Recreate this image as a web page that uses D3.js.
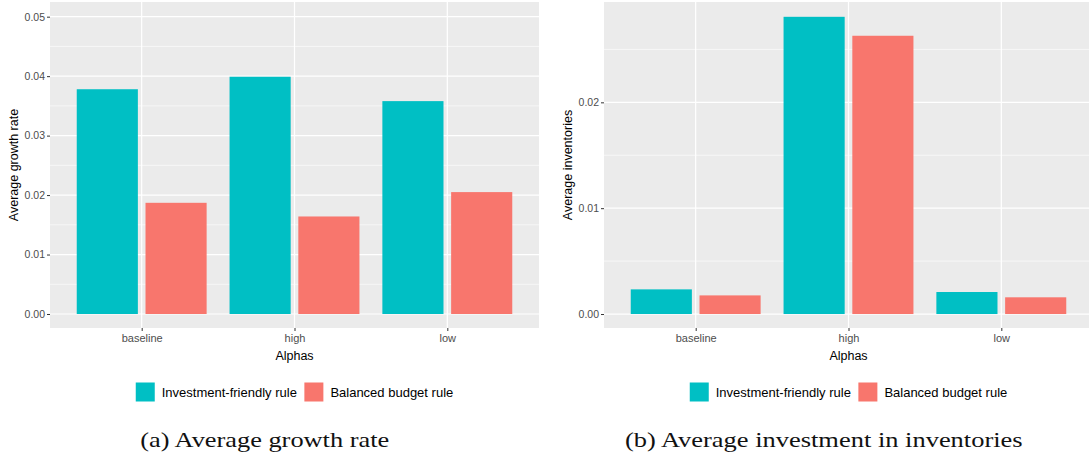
<!DOCTYPE html>
<html>
<head>
<meta charset="utf-8">
<script src="https://cdn.jsdelivr.net/npm/d3@7"></script>
<style>
  html, body { margin: 0; padding: 0; background: #fff; }
  svg { display: block; }
</style>
</head>
<body>
<script>
// data
const categories = ["baseline", "high", "low"];
const seriesNames = ["Investment-friendly rule", "Balanced budget rule"];
const seriesColors = ["#00BFC4", "#F8766D"];

const growthFriendly = [0.0378, 0.0399, 0.0358];
const growthBalanced = [0.0187, 0.0164, 0.0205];
const growthTicks = [0, 0.01, 0.02, 0.03, 0.04, 0.05];
const growthMinor = [0.005, 0.015, 0.025, 0.035, 0.045];

const invFriendly = [0.00233, 0.02808, 0.00208];
const invBalanced = [0.00176, 0.02629, 0.00158];
const invTicks = [0, 0.01, 0.02];
const invMinor = [0.005, 0.015, 0.025];

const W = 1089, H = 457;
const svg = d3.select("body").append("svg").attr("width", W).attr("height", H);

function panel(opt) {
  const g = svg.append("g");
  const top = 2, bottom = 328;

  const x = d3.scalePoint().domain(categories).range([opt.left, opt.right]).padding(0.6);
  const step = x.step();
  const xs = d3.scaleBand().domain(seriesNames)
    .range([-0.45 * step, 0.45 * step])
    .paddingInner(1 / 9).paddingOuter(1 / 18);
  const y = d3.scaleLinear().domain(opt.domain).range([bottom, top]);

  // clip so the right panel is cut by the window edge like the original
  g.append("rect").attr("x", opt.left).attr("y", top)
    .attr("width", opt.right - opt.left).attr("height", bottom - top)
    .attr("fill", "#EBEBEB");

  g.append("g").selectAll("line").data(opt.minor).join("line")
    .attr("x1", opt.left).attr("x2", opt.right)
    .attr("y1", d => y(d)).attr("y2", d => y(d))
    .attr("stroke", "#fff").attr("stroke-width", 0.6);
  g.append("g").selectAll("line").data(opt.ticks).join("line")
    .attr("x1", opt.left).attr("x2", opt.right)
    .attr("y1", d => y(d)).attr("y2", d => y(d))
    .attr("stroke", "#fff").attr("stroke-width", 1.2);
  g.append("g").selectAll("line").data(categories).join("line")
    .attr("x1", d => x(d)).attr("x2", d => x(d))
    .attr("y1", top).attr("y2", bottom)
    .attr("stroke", "#fff").attr("stroke-width", 1.2);

  const rows = [];
  categories.forEach((c, i) => {
    opt.values.forEach((vals, k) => rows.push({ cat: c, s: seriesNames[k], v: vals[i], k }));
  });
  g.append("g").selectAll("rect").data(rows).join("rect")
    .attr("x", d => x(d.cat) + xs(d.s))
    .attr("width", xs.bandwidth())
    .attr("y", d => y(d.v))
    .attr("height", d => y(0) - y(d.v))
    .attr("fill", d => seriesColors[d.k]);

  // y axis
  const ya = g.append("g").attr("transform", `translate(${opt.left},0)`)
    .call(d3.axisLeft(y).tickValues(opt.ticks).tickSize(3).tickPadding(2)
      .tickFormat(d => d3.format(".2f")(d)));
  ya.select(".domain").remove();
  ya.selectAll(".tick line").attr("stroke", "#333");
  ya.selectAll(".tick text").attr("fill", "#4D4D4D")
    .style("font-family", "Liberation Sans, Arial, sans-serif").style("font-size", "10.5px");

  // x axis
  const xa = g.append("g").attr("transform", `translate(0,${bottom})`)
    .call(d3.axisBottom(x).tickSize(3).tickPadding(3));
  xa.select(".domain").remove();
  xa.selectAll(".tick line").attr("stroke", "#333");
  xa.selectAll(".tick text").attr("fill", "#4D4D4D")
    .style("font-family", "Liberation Sans, Arial, sans-serif").style("font-size", "11px");

  const mid = (opt.left + opt.right) / 2;
  g.append("text").attr("x", mid).attr("y", 360)
    .attr("text-anchor", "middle").attr("fill", "#000")
    .style("font-family", "Liberation Sans, Arial, sans-serif").style("font-size", "12.5px")
    .text("Alphas");

  g.append("text")
    .attr("transform", `translate(${opt.titleX},${(top + bottom) / 2}) rotate(-90)`)
    .attr("text-anchor", "middle").attr("dy", "0.35em").attr("fill", "#000")
    .style("font-family", "Liberation Sans, Arial, sans-serif").style("font-size", "12.5px")
    .text(opt.yTitle);

  // legend, centred under the panel
  const leg = g.append("g");
  const items = leg.selectAll("g").data(seriesNames).join("g");
  items.append("rect").attr("width", 19).attr("height", 19).attr("y", 382.5)
    .attr("fill", (d, i) => seriesColors[i]);
  items.append("text").attr("x", 26).attr("y", 392.5).attr("dy", "0.35em")
    .attr("fill", "#000")
    .style("font-family", "Liberation Sans, Arial, sans-serif").style("font-size", "13px")
    .text(d => d);
  let cx = 0;
  items.each(function () {
    const tw = d3.select(this).select("text").node().getComputedTextLength();
    d3.select(this).attr("transform", `translate(${cx},0)`);
    cx += 26 + tw + 7.5;
  });
  cx -= 7.5;
  leg.attr("transform", `translate(${mid - cx / 2},0)`);

  svg.append("text").attr("x", opt.capX).attr("y", 446.5)
    .attr("text-anchor", "middle").attr("fill", "#111")
    .attr("textLength", opt.capW).attr("lengthAdjust", "spacingAndGlyphs")
    .style("font-family", "Liberation Serif, Times New Roman, serif").style("font-size", "22px")
    .text(opt.caption);
}

panel({
  left: 50, right: 539,
  domain: [-0.002355, 0.05247],
  ticks: growthTicks, minor: growthMinor,
  values: [growthFriendly, growthBalanced],
  yTitle: "Average growth rate", titleX: 13.5,
  caption: "(a) Average growth rate", capX: 264.7, capW: 249
});

panel({
  left: 604, right: 1093,
  domain: [-0.00132, 0.02948],
  ticks: invTicks, minor: invMinor,
  values: [invFriendly, invBalanced],
  yTitle: "Average inventories", titleX: 567.5,
  caption: "(b) Average investment in inventories", capX: 823.8, capW: 397.7
});
</script>
</body>
</html>
